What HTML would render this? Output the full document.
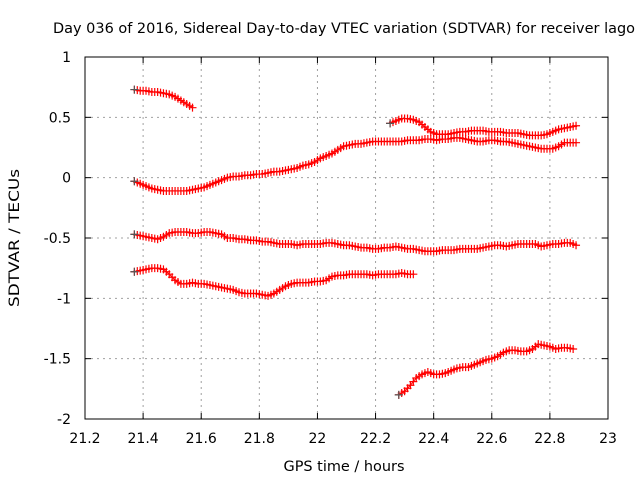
<!DOCTYPE html>
<html><head><meta charset="utf-8"><style>
body{margin:0;background:#fff;}
svg text{font-family:"DejaVu Sans","Liberation Sans",sans-serif;font-size:14px;fill:#000;}
</style></head><body>
<svg id="chart" width="640" height="480" xmlns="http://www.w3.org/2000/svg">
<text x="344" y="33" text-anchor="middle" textLength="582" lengthAdjust="spacingAndGlyphs">Day 036 of 2016, Sidereal Day-to-day VTEC variation (SDTVAR) for receiver lago</text>
<text x="344" y="471" text-anchor="middle" textLength="121" lengthAdjust="spacingAndGlyphs">GPS time / hours</text>
<text transform="translate(19,238) rotate(-90)" text-anchor="middle" textLength="138" lengthAdjust="spacingAndGlyphs">SDTVAR / TECUs</text>
<g id="grid"></g><g id="series"></g><g id="axes"></g>
</svg>
<script>
const xTicks=[21.2,21.4,21.6,21.8,22,22.2,22.4,22.6,22.8,23];
const xTickLabels=["21.2","21.4","21.6","21.8","22","22.2","22.4","22.6","22.8","23"];
const yTicks=[1,0.5,0,-0.5,-1,-1.5,-2];
const yTickLabels=["1","0.5","0","-0.5","-1","-1.5","-2"];
const step=0.02;
const seriesAStart=21.37;
const seriesA=[.73,.72,.72,.71,.71,.70,.69,.67,.64,.61,.58];
const seriesBStart=21.37;
const seriesB=[-0.03,-0.05,-0.07,-0.09,-0.10,-0.11,-0.11,-0.11,-0.11,-0.11,-0.10,-0.09,-0.08,-0.06,-0.04,-0.02,0.00,0.01,0.01,0.02,0.02,0.03,0.03,0.04,0.05,0.05,0.06,0.07,0.08,0.10,0.11,0.13,0.16,0.18,0.20,0.23,0.26,0.27,0.28,0.28,0.29,0.30,0.30,0.30,0.30,0.30,0.30,0.31,0.31,0.31,0.32,0.32,0.31,0.32,0.32,0.33,0.33,0.32,0.31,0.30,0.30,0.31,0.31,0.30,0.30,0.29,0.28,0.27,0.26,0.25,0.24,0.24,0.24,0.26,0.29,0.29,0.29];
const seriesFStart=22.25;
const seriesF=[0.45,0.47,0.49,0.49,0.48,0.46,0.42,0.38,0.36,0.36,0.36,0.37,0.38,0.38,0.39,0.39,0.39,0.38,0.38,0.38,0.37,0.37,0.37,0.36,0.35,0.35,0.35,0.36,0.38,0.40,0.41,0.42,0.43];
const seriesCStart=21.37;
const seriesC=[-0.47,-0.48,-0.49,-0.50,-0.51,-0.49,-0.46,-0.45,-0.45,-0.45,-0.46,-0.46,-0.45,-0.45,-0.46,-0.47,-0.50,-0.50,-0.51,-0.51,-0.52,-0.52,-0.53,-0.53,-0.54,-0.55,-0.55,-0.55,-0.56,-0.55,-0.55,-0.55,-0.55,-0.54,-0.54,-0.55,-0.56,-0.56,-0.57,-0.58,-0.58,-0.59,-0.59,-0.58,-0.58,-0.57,-0.58,-0.59,-0.59,-0.60,-0.61,-0.61,-0.61,-0.60,-0.60,-0.60,-0.59,-0.59,-0.59,-0.59,-0.58,-0.57,-0.56,-0.56,-0.57,-0.56,-0.55,-0.55,-0.55,-0.55,-0.57,-0.56,-0.55,-0.55,-0.54,-0.54,-0.56];
const seriesDStart=21.37;
const seriesD=[-0.78,-0.77,-0.76,-0.75,-0.75,-0.76,-0.80,-0.85,-0.88,-0.88,-0.87,-0.88,-0.88,-0.89,-0.90,-0.91,-0.92,-0.93,-0.95,-0.96,-0.96,-0.96,-0.97,-0.98,-0.96,-0.93,-0.90,-0.88,-0.87,-0.87,-0.87,-0.86,-0.86,-0.85,-0.82,-0.81,-0.81,-0.80,-0.80,-0.80,-0.80,-0.81,-0.80,-0.80,-0.80,-0.80,-0.79,-0.80,-0.80];
const seriesEStart=22.28;
const seriesE=[-1.80,-1.77,-1.72,-1.66,-1.63,-1.61,-1.63,-1.63,-1.62,-1.60,-1.58,-1.57,-1.57,-1.55,-1.53,-1.51,-1.50,-1.48,-1.45,-1.43,-1.43,-1.44,-1.44,-1.42,-1.38,-1.39,-1.40,-1.42,-1.41,-1.41,-1.42];

const L=85,R=608,T=57,B=419;
const xS=v=>L+(v-21.2)/(23-21.2)*(R-L);
const yS=v=>T+(1-v)/3*(B-T);
const NS="http://www.w3.org/2000/svg";
function mk(tag,attrs,parent){const e=document.createElementNS(NS,tag);for(const k in attrs)e.setAttribute(k,attrs[k]);parent.appendChild(e);return e;}
const grid=document.getElementById('grid'),axes=document.getElementById('axes'),ser=document.getElementById('series');
xTicks.forEach((t,i)=>{const x=xS(t);
 if(i>0&&i<xTicks.length-1){const g=mk('line',{x1:x,x2:x,y1:T,y2:B,stroke:'#a0a0a0','stroke-dasharray':'2,4'},grid);
 
 }
 mk('line',{x1:x,x2:x,y1:B,y2:B-6,stroke:'#000'},axes);mk('line',{x1:x,x2:x,y1:T,y2:T+6,stroke:'#000'},axes);
 const tx=mk('text',{x:x,y:B+24,'text-anchor':'middle'},axes);tx.textContent=xTickLabels[i];
 
 });
yTicks.forEach((t,i)=>{const y=yS(t);
 if(i>0&&i<yTicks.length-1){const g=mk('line',{x1:L,x2:R,y1:y,y2:y,stroke:'#a0a0a0','stroke-dasharray':'2,4'},grid);
 
 }
 mk('line',{x1:L,x2:L+6,y1:y,y2:y,stroke:'#000'},axes);mk('line',{x1:R,x2:R-6,y1:y,y2:y,stroke:'#000'},axes);
 const tx=mk('text',{x:71,y:y+5,'text-anchor':'end'},axes);tx.textContent=yTickLabels[i];
 
 });
const box=mk('rect',{x:L,y:T,width:R-L,height:B-T,fill:'none',stroke:'#000'},axes);


function draw(start,vals,name){
 const g=mk('g',{},ser);
 
 
 const pts=vals.map((v,i)=>[xS(start+i*step),yS(v)]);
 mk('polyline',{points:pts.map(p=>p.join(',')).join(' '),fill:'none',stroke:'#f00','stroke-width':1},g);
 let d='';pts.forEach(p=>{d+=`M${p[0]-4},${p[1]}h8M${p[0]},${p[1]-4}v8`;});
 mk('path',{d:d,stroke:'#f00','stroke-width':1.2,fill:'none'},g);
 let d2='';for(let i=0;i<vals.length-1;i++){const x=(pts[i][0]+pts[i+1][0])/2,y=(pts[i][1]+pts[i+1][1])/2;d2+=`M${x-4},${y}h8M${x},${y-4}v8`;}
 mk('path',{d:d2,stroke:'#f00','stroke-width':1.2,fill:'none'},g);
 const p0=pts[0];mk('path',{d:`M${p0[0]-4},${p0[1]}h8M${p0[0]},${p0[1]-4}v8`,stroke:'#555','stroke-width':1.2},g);
}
draw(seriesAStart,seriesA,'series-a');
draw(seriesBStart,seriesB,'series-b');
draw(seriesFStart,seriesF,'series-f');
draw(seriesCStart,seriesC,'series-c');
draw(seriesDStart,seriesD,'series-d');
draw(seriesEStart,seriesE,'series-e');
</script>
</body></html>
